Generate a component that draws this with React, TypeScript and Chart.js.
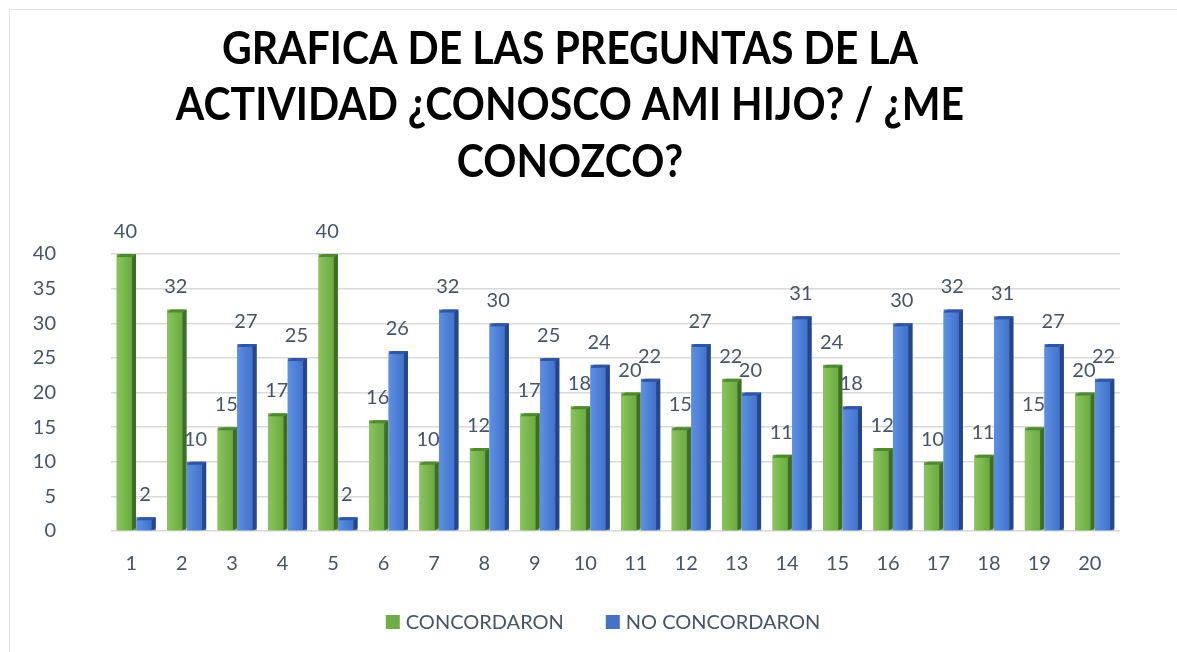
import React, { useEffect, useRef } from "react";
import { Chart, registerables } from "chart.js";

Chart.register(...registerables);

const categories = ["1","2","3","4","5","6","7","8","9","10","11","12","13","14","15","16","17","18","19","20"];
const concordaron = [40,32,15,17,40,16,10,12,17,18,20,15,22,11,24,12,10,11,15,20];
const noConcordaron = [2,10,27,25,2,26,32,30,25,24,22,27,20,31,18,30,32,31,27,22];
const seriesNames = ["CONCORDARON", "NO CONCORDARON"];
const titleLines = ["GRAFICA DE LAS PREGUNTAS DE LA", "ACTIVIDAD ¿CONOSCO AMI HIJO? / ¿ME", "CONOZCO?"];

const TEXT = "#44546A";
const FONT = "Lato, 'Open Sans', sans-serif";

const shades = [
  { light: "#8ac45e", mid: "#6aab3f", side: "#3f6d27", top: "#4f8a30", legend: "#70AD47" },
  { light: "#5d8fe3", mid: "#4173cc", side: "#27468a", top: "#2f55a3", legend: "#4472C4" },
];

const barPlugin = {
  id: "bars3d",
  afterDatasetsDraw(chart: any) {
    const ctx = chart.ctx;
    chart.data.datasets.forEach((ds: any, di: number) => {
      const meta = chart.getDatasetMeta(di);
      const s = shades[di];
      meta.data.forEach((el: any, i: number) => {
        const p = el.getProps(["x", "y", "base", "width"], true);
        const left = p.x - p.width / 2;
        const right = p.x + p.width / 2;
        const top = p.y;
        const bottom = p.base;
        const d = 4;
        ctx.save();
        const g = ctx.createLinearGradient(left, 0, right - d, 0);
        g.addColorStop(0, s.light);
        g.addColorStop(1, s.mid);
        ctx.fillStyle = g;
        ctx.fillRect(left, top + 3, right - d - left, bottom - top - 3);
        ctx.fillStyle = s.side;
        ctx.beginPath();
        ctx.moveTo(right - d, top + 3);
        ctx.lineTo(right, top);
        ctx.lineTo(right, bottom - 2);
        ctx.lineTo(right - d, bottom);
        ctx.closePath();
        ctx.fill();
        ctx.fillStyle = s.top;
        ctx.beginPath();
        ctx.moveTo(left, top + 3);
        ctx.lineTo(left + d, top);
        ctx.lineTo(right, top);
        ctx.lineTo(right - d, top + 3);
        ctx.closePath();
        ctx.fill();
        ctx.fillStyle = TEXT;
        ctx.font = `20px ${FONT}`;
        ctx.textAlign = "center";
        ctx.textBaseline = "alphabetic";
        ctx.fillText(String(ds.data[i]), p.x - 1, top - 16);
        ctx.restore();
      });
    });
  },
  afterDraw(chart: any) {
    const ctx = chart.ctx;
    ctx.save();
    // title
    ctx.fillStyle = "#000";
    ctx.font = `bold 46px ${FONT}`;
    ctx.textAlign = "center";
    ctx.textBaseline = "alphabetic";
    const w1 = ctx.measureText(titleLines[0]).width;
    const sx = 696 / w1;
    const baselines = [64, 120, 177];
    titleLines.forEach((t, i) => {
      ctx.save();
      ctx.translate(570, baselines[i]);
      ctx.scale(sx, 1);
      ctx.fillText(t, 0, 0);
      ctx.restore();
    });
    // legend
    ctx.font = `20px ${FONT}`;
    ctx.textAlign = "left";
    ctx.textBaseline = "middle";
    const box = 14, gap = 6, between = 42;
    const widths = seriesNames.map((n) => ctx.measureText(n).width);
    const total = widths.reduce((a, w) => a + box + gap + w, 0) + between;
    let x = 603 - total / 2;
    const cy = 622;
    seriesNames.forEach((n, i) => {
      ctx.fillStyle = shades[i].legend;
      ctx.fillRect(x, cy - box / 2, box, box);
      ctx.fillStyle = TEXT;
      ctx.fillText(n, x + box + gap, cy + 1);
      x += box + gap + widths[i] + between;
    });
    ctx.restore();
  },
};

export default function App() {
  const ref = useRef<HTMLCanvasElement>(null);
  useEffect(() => {
    if (!ref.current) return;
    const chart = new Chart(ref.current, {
      type: "bar",
      data: {
        labels: categories,
        datasets: [
          { label: seriesNames[0], data: concordaron, backgroundColor: shades[0].legend, barPercentage: 0.98, categoryPercentage: 0.78 },
          { label: seriesNames[1], data: noConcordaron, backgroundColor: shades[1].legend, barPercentage: 0.98, categoryPercentage: 0.78 },
        ],
      },
      options: {
        responsive: false,
        animation: false,
        layout: { padding: { left: 10, right: 57, top: 254, bottom: 81 } },
        plugins: {
          title: { display: false },
          tooltip: { enabled: false },
          legend: { display: false },
        },
        scales: {
          x: {
            afterFit: (s: any) => { s.height = 40; },
            grid: { display: false },
            border: { display: false },
            ticks: { color: TEXT, font: { family: FONT, size: 20 }, padding: 13, labelOffset: -5 },
          },
          y: {
            min: 0,
            max: 40,
            afterFit: (s: any) => { s.width = 101; },
            grid: { color: "#d9d9d9", lineWidth: 1.5, drawTicks: false },
            border: { display: false },
            ticks: { stepSize: 5, color: TEXT, font: { family: FONT, size: 20 }, padding: 55 },
          },
        },
      },
      plugins: [barPlugin],
    });
    return () => chart.destroy();
  }, []);
  return (
    <div style={{ position: "absolute", left: 0, top: 0, width: 1177, height: 652, background: "#fff" }}>
      <div style={{ position: "absolute", left: 9, top: 9, right: 0, bottom: 0, borderTop: "1px solid #dfe4ea", borderLeft: "1px solid #dfe4ea" }} />
      <canvas ref={ref} width={1177} height={652} style={{ position: "absolute", left: 0, top: 0 }} />
    </div>
  );
}
